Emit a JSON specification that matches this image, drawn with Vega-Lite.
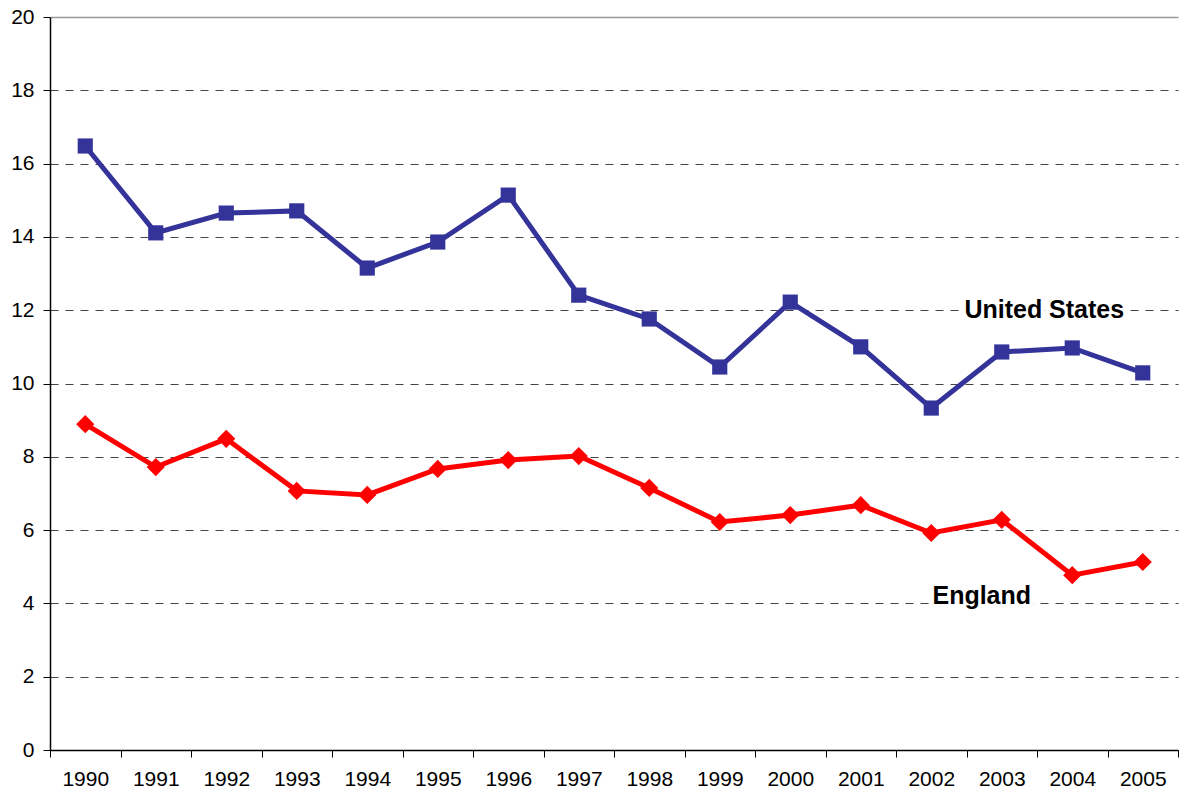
{
  "$schema": "https://vega.github.io/schema/vega-lite/v6.json",
  "width": 1128,
  "height": 733,
  "autosize": {"type": "none"},
  "padding": {"left": 50, "top": 17, "right": 1, "bottom": 42},
  "background": "white",
  "config": {
    "view": {"stroke": null},
    "font": "Liberation Sans"
  },
  "datasets": {
    "rates": [
      {"year": "1990", "country": "United States", "value": 16.48},
      {"year": "1991", "country": "United States", "value": 14.11},
      {"year": "1992", "country": "United States", "value": 14.65},
      {"year": "1993", "country": "United States", "value": 14.71},
      {"year": "1994", "country": "United States", "value": 13.15},
      {"year": "1995", "country": "United States", "value": 13.86},
      {"year": "1996", "country": "United States", "value": 15.14},
      {"year": "1997", "country": "United States", "value": 12.41},
      {"year": "1998", "country": "United States", "value": 11.76},
      {"year": "1999", "country": "United States", "value": 10.45},
      {"year": "2000", "country": "United States", "value": 12.22},
      {"year": "2001", "country": "United States", "value": 11.0},
      {"year": "2002", "country": "United States", "value": 9.33},
      {"year": "2003", "country": "United States", "value": 10.86},
      {"year": "2004", "country": "United States", "value": 10.97},
      {"year": "2005", "country": "United States", "value": 10.29},
      {"year": "1990", "country": "England", "value": 8.89},
      {"year": "1991", "country": "England", "value": 7.72},
      {"year": "1992", "country": "England", "value": 8.49},
      {"year": "1993", "country": "England", "value": 7.07},
      {"year": "1994", "country": "England", "value": 6.96},
      {"year": "1995", "country": "England", "value": 7.67},
      {"year": "1996", "country": "England", "value": 7.91},
      {"year": "1997", "country": "England", "value": 8.02},
      {"year": "1998", "country": "England", "value": 7.15},
      {"year": "1999", "country": "England", "value": 6.22},
      {"year": "2000", "country": "England", "value": 6.41},
      {"year": "2001", "country": "England", "value": 6.68},
      {"year": "2002", "country": "England", "value": 5.92},
      {"year": "2003", "country": "England", "value": 6.28},
      {"year": "2004", "country": "England", "value": 4.77},
      {"year": "2005", "country": "England", "value": 5.13}
    ],
    "labels": [
      {"year": "2004", "country": "United States", "value": 12.0},
      {"year": "2003", "country": "England", "value": 4.2}
    ]
  },
  "encoding": {
    "x": {
      "field": "year",
      "type": "ordinal",
      "scale": {"type": "band", "paddingInner": 0, "paddingOuter": 0},
      "axis": {
        "title": null,
        "labelAngle": 0,
        "labelFontSize": 21,
        "labelColor": "black",
        "labelPadding": 11,
        "tickBand": "extent",
        "tickSize": 7,
        "tickColor": "black",
        "domainColor": "black",
        "domainWidth": 1.5,
        "grid": false
      }
    },
    "y": {
      "field": "value",
      "type": "quantitative",
      "scale": {"domain": [0, 20], "nice": false},
      "axis": {
        "title": null,
        "values": [0, 2, 4, 6, 8, 10, 12, 14, 16, 18, 20],
        "labelFontSize": 21,
        "labelColor": "black",
        "labelPadding": 9,
        "tickSize": 7,
        "tickColor": "black",
        "domainColor": "black",
        "domainWidth": 1.5,
        "grid": true,
        "gridColor": {"condition": {"test": "datum.value === 20", "value": "#999999"}, "value": "#444444"},
        "gridDash": {"condition": {"test": "datum.value === 20", "value": []}, "value": [8, 7]},
        "gridWidth": {"condition": {"test": "datum.value === 20", "value": 1.5}, "value": 1}
      }
    },
    "color": {
      "field": "country",
      "type": "nominal",
      "scale": {"domain": ["United States", "England"], "range": ["#333399", "#FF0000"]},
      "legend": null
    }
  },
  "layer": [
    {
      "data": {"name": "rates"},
      "mark": {"type": "line", "strokeWidth": 5}
    },
    {
      "data": {"name": "rates"},
      "mark": {"type": "point", "filled": true, "opacity": 1},
      "encoding": {
        "shape": {
          "field": "country",
          "type": "nominal",
          "scale": {"domain": ["United States", "England"], "range": ["square", "diamond"]},
          "legend": null
        },
        "size": {
          "field": "country",
          "type": "nominal",
          "scale": {"domain": ["United States", "England"], "range": [230, 330]},
          "legend": null
        }
      }
    },
    {
      "data": {"name": "labels"},
      "transform": [{"filter": "datum.country === 'United States'"}],
      "mark": {"type": "text", "fontSize": 25, "fontWeight": "bold", "dx": -28, "baseline": "middle", "stroke": "white", "strokeWidth": 8, "fill": "white"},
      "encoding": {"text": {"field": "country"}, "color": {"value": "white"}}
    },
    {
      "data": {"name": "labels"},
      "transform": [{"filter": "datum.country === 'United States'"}],
      "mark": {"type": "text", "fontSize": 25, "fontWeight": "bold", "dx": -28, "baseline": "middle"},
      "encoding": {"text": {"field": "country"}, "color": {"value": "black"}}
    },
    {
      "data": {"name": "labels"},
      "transform": [{"filter": "datum.country === 'England'"}],
      "mark": {"type": "text", "fontSize": 25, "fontWeight": "bold", "dx": -20, "baseline": "middle", "stroke": "white", "strokeWidth": 8, "fill": "white"},
      "encoding": {"text": {"field": "country"}, "color": {"value": "white"}}
    },
    {
      "data": {"name": "labels"},
      "transform": [{"filter": "datum.country === 'England'"}],
      "mark": {"type": "text", "fontSize": 25, "fontWeight": "bold", "dx": -20, "baseline": "middle"},
      "encoding": {"text": {"field": "country"}, "color": {"value": "black"}}
    }
  ]
}
